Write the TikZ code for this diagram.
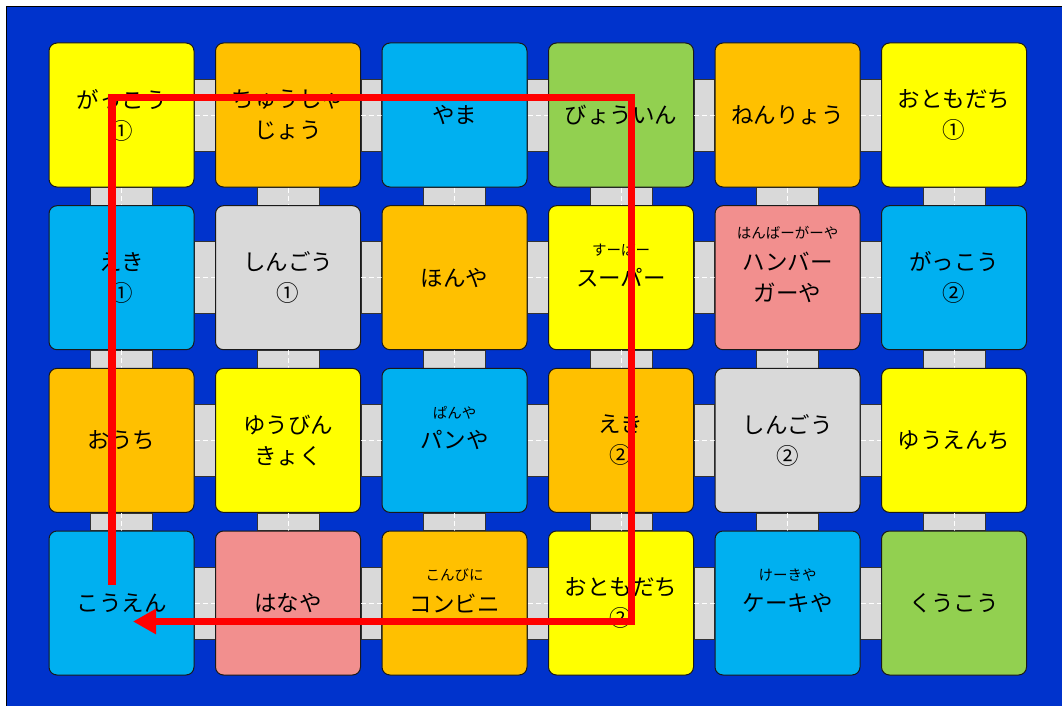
\documentclass[tikz,border=0pt]{standalone}
\usepackage{fontspec}
\setmainfont{Noto Sans CJK JP}
\usetikzlibrary{arrows.meta}
\definecolor{mapblue}{RGB}{0,51,204}
\definecolor{tileyellow}{RGB}{255,255,0}
\definecolor{tileorange}{RGB}{255,192,0}
\definecolor{tileblue}{RGB}{0,176,240}
\definecolor{tilegreen}{RGB}{146,208,80}
\definecolor{tilepink}{RGB}{242,143,142}
\definecolor{tilegray}{RGB}{217,217,217}
\definecolor{routered}{RGB}{255,0,0}
\pgfdeclarelayer{sealayer}
\pgfdeclarelayer{roadlayer}
\pgfsetlayers{sealayer,roadlayer,main}

\tikzset{
  tile/.style={draw=black!90, line width=1pt, rounded corners=8pt,
    minimum width=145pt, minimum height=144pt, inner sep=0pt,
    align=center, font=\fontsize{22.5}{31}\selectfont},
  reading/.style={font=\fontsize{14.5}{16}\selectfont, inner sep=0pt},
  road/.style={fill=tilegray, draw=black!80, line width=0.8pt},
  lane/.style={draw=white, line width=0.8pt, dash pattern=on 5pt off 3pt},
  route/.style={draw=routered, line width=7.5pt, -{Triangle[length=23pt,width=24pt]}}
}

\begin{document}
\begin{tikzpicture}[x=1pt,y=-1pt]
\useasboundingbox (0,0) rectangle (1062,706);
% Sea
\begin{pgfonlayer}{sealayer}
\draw[fill=mapblue, draw=black, line width=0.8pt] (6,6) rectangle (1064,708);
\end{pgfonlayer}
% Row 1
\node[tile, fill=tileyellow] (t-1-1) at (121.5,115) {がっこう\\①};
\node[tile, fill=tileorange] (t-1-2) at (288,115) {ちゅうしゃ\\じょう};
\node[tile, fill=tileblue]   (t-1-3) at (454.5,115) {やま};
\node[tile, fill=tilegreen]  (t-1-4) at (621,115) {びょういん};
\node[tile, fill=tileorange] (t-1-5) at (787.5,115) {ねんりょう};
\node[tile, fill=tileyellow] (t-1-6) at (954,115) {おともだち\\①};
% Row 2
\node[tile, fill=tileblue]   (t-2-1) at (121.5,277.7) {えき\\①};
\node[tile, fill=tilegray]   (t-2-2) at (288,277.7) {しんごう\\①};
\node[tile, fill=tileorange] (t-2-3) at (454.5,277.7) {ほんや};
\node[tile, fill=tileyellow, label={[reading,yshift=28pt]center:すーぱー}] (t-2-4) at (621,277.7) {スーパー};
\node[tile, fill=tilepink, label={[reading,yshift=45pt]center:はんばーがーや}] (t-2-5) at (787.5,277.7) {ハンバー\\ガーや};
\node[tile, fill=tileblue]   (t-2-6) at (954,277.7) {がっこう\\②};
% Row 3
\node[tile, fill=tileorange] (t-3-1) at (121.5,440.4) {おうち};
\node[tile, fill=tileyellow] (t-3-2) at (288,440.4) {ゆうびん\\きょく};
\node[tile, fill=tileblue, label={[reading,yshift=28pt]center:ぱんや}] (t-3-3) at (454.5,440.4) {パンや};
\node[tile, fill=tileorange] (t-3-4) at (621,440.4) {えき\\②};
\node[tile, fill=tilegray]   (t-3-5) at (787.5,440.4) {しんごう\\②};
\node[tile, fill=tileyellow] (t-3-6) at (954,440.4) {ゆうえんち};
% Row 4
\node[tile, fill=tileblue]   (t-4-1) at (121.5,603) {こうえん};
\node[tile, fill=tilepink]   (t-4-2) at (288,603) {はなや};
\node[tile, fill=tileorange, label={[reading,yshift=28pt]center:こんびに}] (t-4-3) at (454.5,603) {コンビニ};
\node[tile, fill=tileyellow] (t-4-4) at (621,603) {おともだち\\②};
\node[tile, fill=tileblue, label={[reading,yshift=28pt]center:けーきや}] (t-4-5) at (787.5,603) {ケーキや};
\node[tile, fill=tilegreen]  (t-4-6) at (954,603) {くうこう};
% Roads between the tiles
\begin{pgfonlayer}{roadlayer}
\foreach \row in {1,...,4}{
  \foreach \col in {1,...,5}{
    \pgfmathtruncatemacro{\nxt}{\col+1}
    \path[road] ([yshift=36pt]t-\row-\col.east) rectangle ([yshift=-36pt]t-\row-\nxt.west);
    \draw[lane] (t-\row-\col.east) -- (t-\row-\nxt.west);
  }
}
\foreach \row in {1,...,3}{
  \foreach \col in {1,...,6}{
    \pgfmathtruncatemacro{\nxt}{\row+1}
    \path[road] ([xshift=-31pt]t-\row-\col.south) rectangle ([xshift=31pt]t-\nxt-\col.north);
    \draw[lane] (t-\row-\col.south) -- (t-\nxt-\col.north);
  }
}
\end{pgfonlayer}
% Route
\coordinate (start) at (112,585);
\coordinate (turn1) at (112,97.5);
\coordinate (turn2) at (631.5,97.5);
\coordinate (turn3) at (631.5,621.5);
\coordinate (goal) at (133,621.5);
\draw[route] (start) -- (turn1) -- (turn2) -- (turn3) -- (goal);
\end{tikzpicture}
\end{document}
